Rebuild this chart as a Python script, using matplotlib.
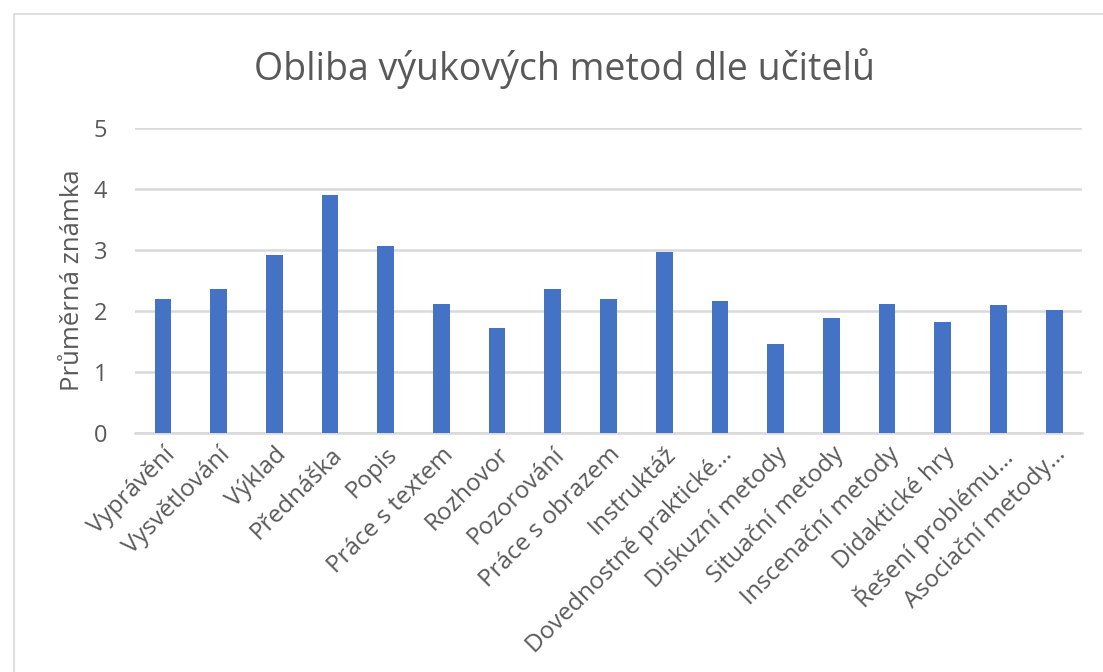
import matplotlib.pyplot as plt
from matplotlib.patches import Rectangle

plt.rcParams['font.family'] = ['Open Sans', 'DejaVu Sans']

# data
methods = [
    'Vyprávění', 'Vysvětlování', 'Výklad', 'Přednáška', 'Popis',
    'Práce s textem', 'Rozhovor', 'Pozorování', 'Práce s obrazem',
    'Instruktáž', 'Dovednostně praktické…', 'Diskuzní metody',
    'Situační metody', 'Inscenační metody', 'Didaktické hry',
    'Řešení problému…', 'Asociační metody…',
]
avg_grade = [2.19, 2.35, 2.92, 3.89, 3.06, 2.11, 1.72, 2.35, 2.19,
             2.97, 2.16, 1.45, 1.89, 2.11, 1.82, 2.09, 2.02]
y_ticks = [0, 1, 2, 3, 4, 5]

text_color = '#595959'
bar_color = '#4472C4'

fig = plt.figure(figsize=(11.03, 6.72), dpi=100)
ax = fig.add_axes([0.1224, 0.3557, 0.8586, 0.4544])

# chart frame
fig.patches.append(Rectangle((14 / 1103, -0.01), 1.02, 1 - 14 / 672 + 0.01,
                             transform=fig.transFigure, fill=False,
                             edgecolor='#D9D9D9', linewidth=1.2))

x = range(len(methods))
ax.bar(x, avg_grade, width=0.3, color=bar_color, zorder=3)

ax.set_ylim(0, 5)
ax.set_xlim(-0.5, len(methods) - 0.5)
ax.set_yticks(y_ticks)
ax.set_xticks(list(x))
ax.set_xticklabels(methods, rotation=45, ha='right', rotation_mode='anchor',
                   fontsize=17.5, color=text_color)
ax.tick_params(axis='y', labelsize=17, colors=text_color, length=0, pad=20)
ax.tick_params(axis='x', length=0, pad=7)

ax.yaxis.grid(True, color='#D9D9D9', linewidth=1.8, zorder=0)
for side in ['top', 'right', 'left']:
    ax.spines[side].set_visible(False)
ax.spines['bottom'].set_color('#D9D9D9')
ax.spines['bottom'].set_linewidth(1.8)

ax.set_ylabel('Průměrná známka', fontsize=18.5, color=text_color, labelpad=6)
fig.text(0.512, 0.898, 'Obliba výukových metod dle učitelů', ha='center',
         va='center', fontsize=27, color=text_color)

fig.savefig('out.png', dpi=100)
